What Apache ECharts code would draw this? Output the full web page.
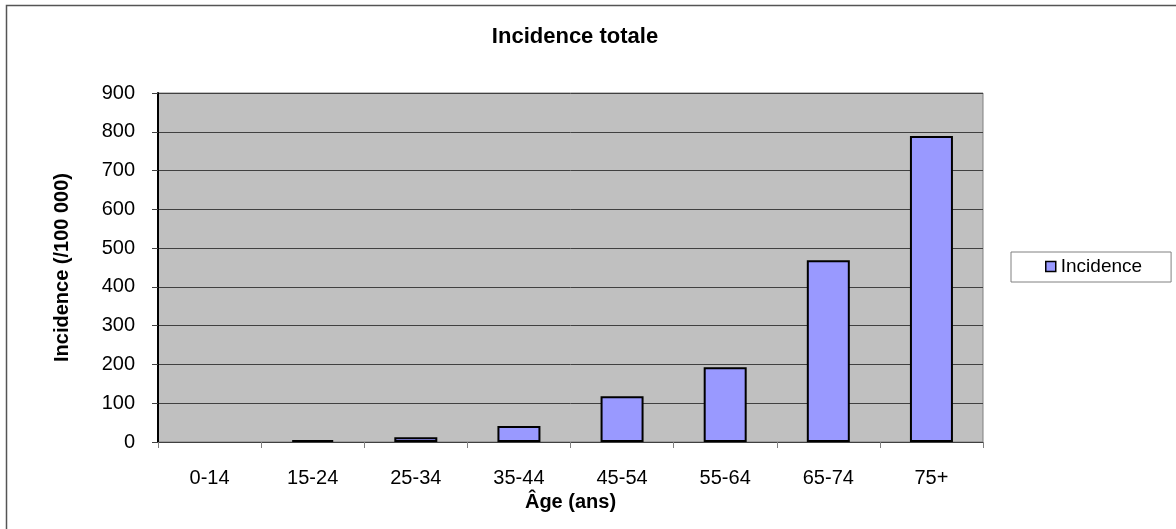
<!DOCTYPE html>
<html>
<head>
<meta charset="utf-8">
<script src="https://cdn.jsdelivr.net/npm/echarts@6/dist/echarts.min.js"></script>
<style>
  html, body { margin: 0; padding: 0; background: #fff; }
  #chart { width: 1176px; height: 529px; }
</style>
</head>
<body>
<div id="chart"></div>
<script>
// Age groups and total incidence per 100 000
const ageGroups = ['0-14', '15-24', '25-34', '35-44', '45-54', '55-64', '65-74', '75+'];
const incidence = [0, 5, 12, 41, 118, 193, 469, 789];
const seriesName = 'Incidence';
const titleText = 'Incidence totale';
const xAxisName = 'Âge (ans)';
const yAxisName = 'Incidence (/100 000)';

const FONT = '"Liberation Sans", Arial, sans-serif';

// A zero-height bar gets no outline
const barData = incidence.map(v => v === 0 ? { value: v, itemStyle: { borderWidth: 0 } } : v);

const chart = echarts.init(document.getElementById('chart'), null, { renderer: 'canvas' });

chart.setOption({
  backgroundColor: '#ffffff',
  animation: false,
  title: {
    text: titleText,
    left: 570,
    top: 21,
    textAlign: 'center',
    textStyle: { fontFamily: FONT, fontSize: 22, fontWeight: 'bold', color: '#000' }
  },
  legend: {
    data: [seriesName],
    orient: 'vertical',
    left: 1011,
    top: 252,
    padding: [5, 29, 6, 34],
    borderColor: '#808080',
    borderWidth: 1,
    backgroundColor: '#fff',
    itemWidth: 10,
    itemHeight: 10,
    icon: 'rect',
    textStyle: { fontFamily: FONT, fontSize: 19, color: '#000' },
    itemStyle: { borderColor: '#000', borderWidth: 1.5 }
  },
  grid: {
    left: 158,
    top: 93,
    right: 193,
    bottom: 87,
    show: true,
    backgroundColor: '#c0c0c0',
    borderColor: '#808080',
    borderWidth: 1
  },
  xAxis: {
    type: 'category',
    data: ageGroups,
    name: xAxisName,
    nameLocation: 'middle',
    nameGap: 48,
    nameTextStyle: { fontFamily: FONT, fontSize: 20, fontWeight: 'bold', color: '#000' },
    axisLine: { lineStyle: { color: '#404040', width: 1 } },
    axisTick: { show: true, length: 6, lineStyle: { color: '#808080' } },
    axisLabel: { fontFamily: FONT, fontSize: 20, color: '#000', margin: 26 },
    splitLine: { show: false }
  },
  yAxis: {
    type: 'value',
    min: 0,
    max: 900,
    interval: 100,
    name: yAxisName,
    nameLocation: 'middle',
    nameGap: 86,
    nameTextStyle: { fontFamily: FONT, fontSize: 20, fontWeight: 'bold', color: '#000' },
    axisLine: { show: true, lineStyle: { color: '#000', width: 2 } },
    axisTick: { show: true, length: 6, lineStyle: { color: '#404040' } },
    axisLabel: { fontFamily: FONT, fontSize: 20, color: '#000', margin: 23 },
    splitLine: { show: true, lineStyle: { color: '#404040', width: 1 } }
  },
  series: [{
    name: seriesName,
    type: 'bar',
    data: barData,
    barWidth: 43,
    itemStyle: { color: '#9999ff', borderColor: '#000', borderWidth: 2 }
  }],
  graphic: [{
    type: 'rect',
    silent: true,
    shape: { x: 6.5, y: 5.5, width: 1200, height: 600 },
    style: { fill: 'none', stroke: '#555', lineWidth: 1.5 },
    z: -1
  }]
});
</script>
</body>
</html>
